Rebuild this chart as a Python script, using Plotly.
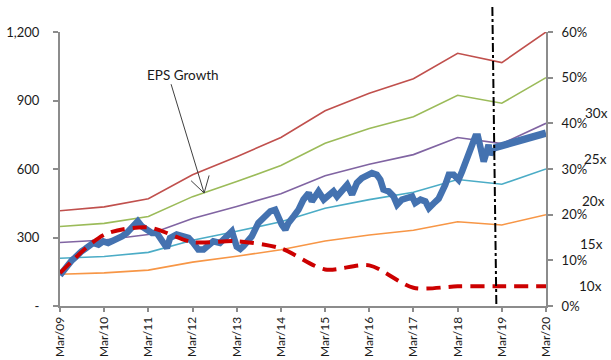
import plotly.graph_objects as go

# ---------------- data ----------------
tick_labels = ["Mar/09", "Mar/10", "Mar/11", "Mar/12", "Mar/13", "Mar/14",
               "Mar/15", "Mar/16", "Mar/17", "Mar/18", "Mar/19", "Mar/20"]
band_x = list(range(12))

pe30 = [417, 434, 470, 575, 654, 738, 855, 932, 995, 1107, 1066, 1200]
pe25 = [348, 362, 392, 479, 545, 615, 713, 777, 829, 923, 888, 1000]
pe20 = [278, 289, 313, 383, 436, 492, 570, 621, 663, 738, 711, 800]
pe15 = [209, 217, 235, 288, 327, 369, 428, 466, 498, 554, 533, 600]
pe10 = [139, 145, 157, 192, 218, 246, 285, 311, 332, 369, 355, 400]

eps_growth = [0.072, 0.156, 0.172, 0.140, 0.142, 0.126, 0.080, 0.089, 0.040, 0.043, 0.043, 0.043]

index_x = [0.00, 0.09, 0.19, 0.27, 0.34, 0.41, 0.49, 0.57, 0.64, 0.75, 0.87, 0.98,
           1.09, 1.21, 1.32, 1.40, 1.51, 1.62, 1.76, 1.85, 1.96, 2.08, 2.19, 2.27,
           2.34, 2.42, 2.49, 2.64, 2.79, 2.91, 3.02, 3.13, 3.25, 3.36, 3.47, 3.62,
           3.74, 3.89, 4.00, 4.08, 4.15, 4.23, 4.34, 4.49, 4.64, 4.76, 4.87, 4.95,
           5.02, 5.10, 5.17, 5.29, 5.40, 5.51, 5.63, 5.70, 5.78, 5.85, 5.97, 6.08,
           6.19, 6.27, 6.38, 6.50, 6.61, 6.72, 6.83, 6.95, 7.06, 7.17, 7.25, 7.32,
           7.44, 7.55, 7.63, 7.74, 7.85, 7.97, 8.04, 8.16, 8.27, 8.35, 8.46, 8.57,
           8.72, 8.80, 8.91, 9.02, 9.10, 9.18, 9.25, 9.33, 9.40, 9.46, 9.52, 9.59,
           9.67, 9.70, 9.74, 9.78, 9.82]
index_y = [135, 160, 181, 200, 212, 228, 240, 250, 262, 276, 269, 283,
           276, 286, 298, 305, 320, 342, 371, 349, 334, 320, 320, 300,
           283, 254, 298, 313, 305, 298, 276, 247, 247, 269, 283, 276,
           298, 327, 260, 250, 262, 280, 305, 364, 393, 415, 422, 378,
           356, 334, 364, 393, 422, 466, 495, 458, 480, 502, 466, 488,
           502, 480, 510, 531, 488, 539, 560, 575, 582, 575, 553, 510,
           502, 480, 444, 466, 473, 480, 451, 466, 458, 429, 450, 470,
           531, 575, 575, 553, 589, 633, 677, 714, 742, 742, 692, 633,
           684, 706, 662, 684, 692]

forecast_x = [9.82, 11.0]
forecast_y = [692, 757]

left_ticks = [0, 300, 600, 900, 1200]
left_ticktext = ["-", "300", "600", "900", "1,200"]
right_ticks = [0, 0.1, 0.2, 0.3, 0.4, 0.5, 0.6]
multiple_labels = ["30x", "25x", "20x", "15x", "10x"]

# ---------------- styling ----------------
FONT = "Lato, 'Liberation Sans', sans-serif"
AX = "#8c8c8c"
L, R, T, B = 60, 65.4, 32, 53.5
W, H = 611, 360
PW, PH = W - L - R, H - T - B


def px(x):
    return (x - L) / PW


def py(y):
    return (H - B - y) / PH


fig = go.Figure()
for vals, col in [(pe30, "#C0504D"), (pe25, "#9BBB59"), (pe20, "#8064A2"),
                  (pe15, "#4BACC6"), (pe10, "#F79646")]:
    fig.add_trace(go.Scatter(x=band_x, y=vals, mode="lines",
                             line=dict(color=col, width=1.6), showlegend=False))

fig.add_trace(go.Scatter(x=index_x, y=index_y, mode="lines",
                         line=dict(color="#4472B0", width=6.5),
                         showlegend=False))
fig.add_trace(go.Scatter(x=forecast_x, y=forecast_y, mode="lines",
                         line=dict(color="#4472B0", width=7.5), showlegend=False))

fig.add_trace(go.Scatter(x=band_x, y=eps_growth, mode="lines", yaxis="y2",
                         line=dict(color="#CC0000", width=4, dash="14px,8px",
                                   shape="spline", smoothing=0.8),
                         showlegend=False))

shapes = [
    dict(type="line", xref="paper", yref="paper", x0=px(492), y0=py(7), x1=px(496), y1=py(306),
         line=dict(color="black", width=2, dash="dashdot")),
    dict(type="line", xref="paper", yref="paper", x0=px(171), y0=py(84.3), x1=px(204), y1=py(193.3),
         line=dict(color="#404040", width=1)),
    dict(type="line", xref="paper", yref="paper", x0=px(191), y0=py(181), x1=px(204), y1=py(193.3),
         line=dict(color="#404040", width=1)),
    dict(type="line", xref="paper", yref="paper", x0=px(209), y0=py(175.7), x1=px(204), y1=py(193.3),
         line=dict(color="#404040", width=1)),
]

annotations = [dict(text="EPS Growth", xref="paper", yref="paper", x=px(183), y=py(75),
                    showarrow=False, xanchor="center", yanchor="middle",
                    font=dict(family=FONT, size=13.5, color="#1a1a1a"))]
for lab, (lx, ly) in zip(multiple_labels, [(610, 113), (609, 159.5), (607, 201.7), (605, 244), (604, 286)]):
    annotations.append(dict(text=lab, xref="paper", yref="paper", x=px(lx), y=py(ly),
                            showarrow=False, xanchor="right", yanchor="middle",
                            font=dict(family=FONT, size=13.5, color="#1a1a1a")))

fig.update_layout(
    width=W, height=H,
    margin=dict(l=L, r=R, t=T, b=B, autoexpand=False),
    paper_bgcolor="white", plot_bgcolor="white",
    font=dict(family=FONT, size=13, color="#1a1a1a"),
    showlegend=False,
    xaxis=dict(range=[0, 11], tickvals=band_x, ticktext=tick_labels, tickangle=-90,
               showgrid=False, zeroline=False, showline=True, linecolor=AX, linewidth=2,
               ticks="outside", ticklen=4, tickcolor=AX, tickwidth=1.5, automargin=False,
               tickfont=dict(size=12)),
    yaxis=dict(range=[0, 1200], tickvals=left_ticks, ticktext=left_ticktext,
               showgrid=False, zeroline=False, showline=True, linecolor=AX, linewidth=2,
               ticks="outside", ticklen=5, tickcolor=AX, tickwidth=1.5, automargin=False,
               ticklabelstandoff=11, tickfont=dict(size=13)),
    yaxis2=dict(range=[0, 0.6], tickvals=right_ticks, tickformat=".0%", overlaying="y",
                side="right", showgrid=False, zeroline=False, showline=True, linecolor=AX,
                linewidth=2, ticks="outside", ticklen=5, tickcolor=AX, tickwidth=1.5,
                automargin=False, ticklabelstandoff=6, tickfont=dict(size=13)),
    shapes=shapes, annotations=annotations,
)

fig.write_html("out.html")
